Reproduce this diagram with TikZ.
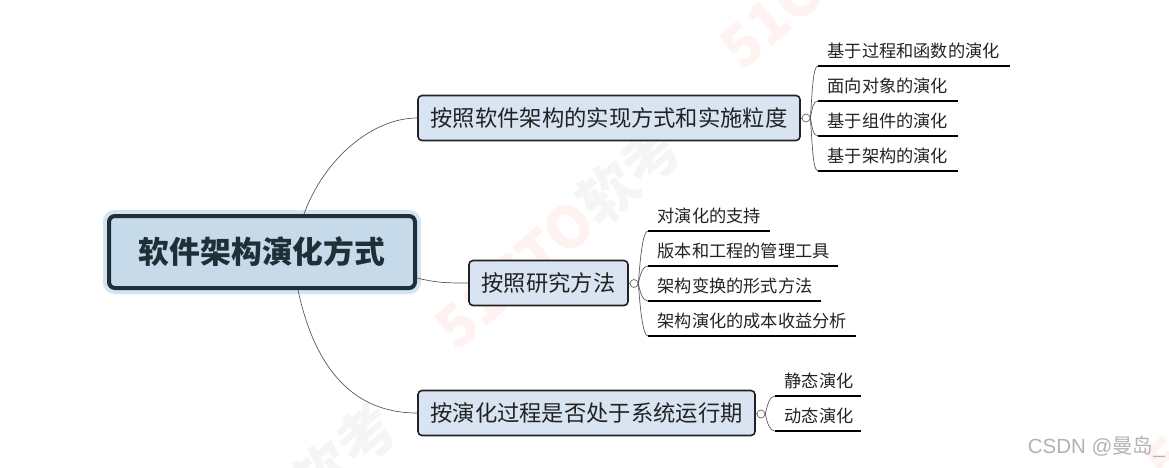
\documentclass[tikz,border=0pt]{standalone}
\usepackage{fontspec}
\setmainfont{Noto Sans CJK SC}
\newfontfamily\latinf{Liberation Sans}
\definecolor{rootfill}{HTML}{C6DAEA}
\definecolor{rootline}{HTML}{1E2F38}
\definecolor{halo}{HTML}{D3E3EF}
\definecolor{subfill}{HTML}{D9E4F3}
\definecolor{inkc}{HTML}{222222}
\definecolor{wmred}{HTML}{FFF3F1}
\definecolor{wmgray}{HTML}{F5F5F5}
\tikzset{
  rootbox/.style={draw=rootline,line width=4pt,fill=rootfill,rounded corners=6pt,
    preaction={draw=halo,line width=12pt},text=rootline,
    minimum width=306pt,minimum height=72pt,inner sep=0pt,
    font=\fontsize{30.8}{32}\selectfont\bfseries},
  subbox/.style={draw=inkc,line width=1.6pt,fill=subfill,rounded corners=4pt,text=inkc,
    minimum height=45pt,inner sep=0pt,font=\fontsize{22.3}{24}\selectfont},
  hubdot/.style={circle,draw=black!60,fill=white,line width=.7pt,minimum size=8pt,inner sep=0pt},
  leafnode/.style={anchor=south west,inner xsep=9.5pt,inner ysep=0pt,minimum height=30pt,align=left,
    text=inkc,font=\fontsize{17.2}{19}\selectfont},
  uline/.style={line width=2.2pt,black},
  conn/.style={line width=.7pt,black!65},
  wmark/.style={rotate=41,inner sep=0pt,font=\fontsize{58}{60}\selectfont\bfseries},
}
\newcommand{\wmtext}{\textcolor{wmred}{51CTO}\textcolor{wmgray}{软考}}
\newcommand{\leaf}[5]{%
  \node[leafnode,minimum width=#3pt-#2pt,text width=#3pt-#2pt-19pt] (#1) at (#2,#4) {\mbox{#5}};
  \draw[uline] (#1.south west) -- (#1.south east);}
\newcommand{\branch}[3]{%
  \draw[conn] (#1.east) .. controls +(2,#3) and +(-5,0) .. (#2.south west);}
\begin{document}
\begin{tikzpicture}[x=1pt,y=-1pt]
\useasboundingbox (0,0) rectangle (1169,467);
\begin{scope}
  \clip (0,0) rectangle (1169,467);
  \node[wmark] (wa) at (558,236) {\wmtext};
  \node[wmark] (wb) at (843,-44) {\wmtext};
  \node[wmark] (wc) at (273,516) {\wmtext};
  \node[wmark] (wd) at (1268,371) {\wmtext};
\end{scope}

\node[rootbox] (root) at (262,252) {软件架构演化方式};
\node[subbox,minimum width=382pt] (s1) at (609,118) {按照软件架构的实现方式和实施粒度};
\node[subbox,minimum width=159pt] (s2) at (548.5,283) {按照研究方法};
\node[subbox,minimum width=337pt] (s3) at (586.5,413) {按演化过程是否处于系统运行期};

\draw[conn] ([xshift=42pt]root.north) .. controls +(20,-55) and +(-45,0) .. (s1.west);
\draw[conn] ([yshift=-26pt]root.east) .. controls +(20,5) and +(-20,0) .. (s2.west);
\draw[conn] ([xshift=36pt]root.south) .. controls +(15,70) and +(-70,0) .. (s3.west);

\node[hubdot] (h1) at (806,118) {};
\node[hubdot] (h2) at (634,283.5) {};
\node[hubdot] (h3) at (761,414) {};
\draw[conn] (s1.east) -- (h1.west);
\draw[conn] (s2.east) -- (h2.west);
\draw[conn] (s3.east) -- (h3.west);

\leaf{a}{818}{1010}{66}{基于过程和函数的演化}
\leaf{b}{818}{958}{101}{面向对象的演化}
\leaf{c}{818}{958}{136}{基于组件的演化}
\leaf{d}{818}{958}{171}{基于架构的演化}
\branch{h1}{a}{-28}
\branch{h1}{b}{-10}
\branch{h1}{c}{10}
\branch{h1}{d}{28}

\leaf{e}{648}{770}{231}{对演化的支持}
\leaf{f}{648}{838}{266}{版本和工程的管理工具}
\leaf{g}{648}{821}{301}{架构变换的形式方法}
\leaf{i}{648}{856}{336}{架构演化的成本收益分析}
\branch{h2}{e}{-28}
\branch{h2}{f}{-10}
\branch{h2}{g}{10}
\branch{h2}{i}{28}

\leaf{j}{775}{861}{396}{静态演化}
\leaf{k}{775}{861}{431}{动态演化}
\branch{h3}{j}{-10}
\branch{h3}{k}{10}

\node[anchor=east,inner sep=0pt,text=black!30,font=\fontsize{20.5}{22}\selectfont] (mark) at (1165,447) {{\latinf CSDN @}曼岛{\latinf\_}};
\end{tikzpicture}
\end{document}
